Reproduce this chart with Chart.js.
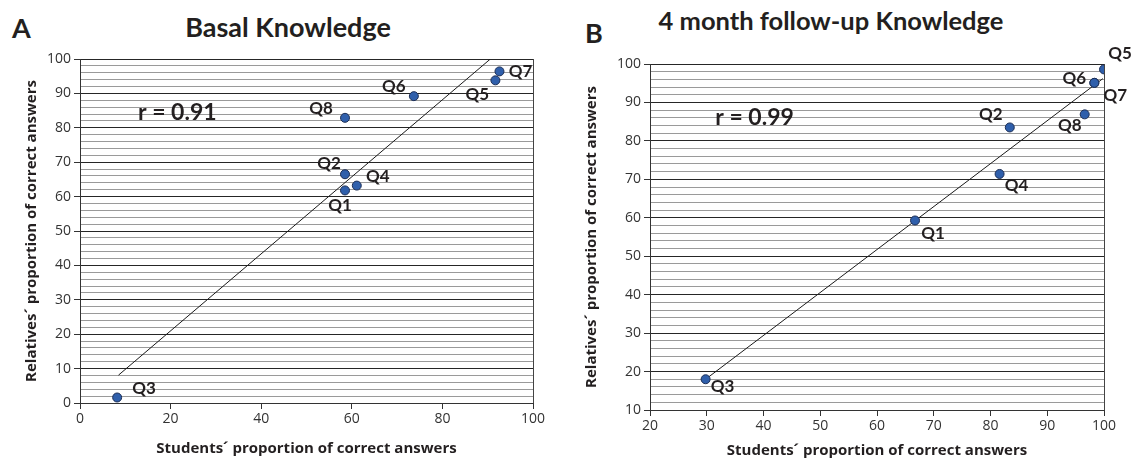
<!DOCTYPE html>
<html>
<head>
<meta charset="utf-8">
<script src="https://cdn.jsdelivr.net/npm/chart.js@4.4.1/dist/chart.umd.min.js"></script>
<style>
  html, body { margin: 0; padding: 0; background: #fff; }
  body { width: 1134px; height: 462px; position: relative; overflow: hidden; font-family: Lato, "Open Sans", sans-serif; color: #231f20; }
  .box { position: absolute; top: 0; height: 462px; }
  .lbl { position: absolute; font-weight: bold; white-space: nowrap; line-height: 1; }
</style>
</head>
<body>
<div class="lbl" style="left:12px; top:14px; font-size:27px;">A</div>
<div class="lbl" style="left:288px; top:13px; font-size:27px; transform:translateX(-50%);">Basal Knowledge</div>
<div class="lbl" style="left:585px; top:19px; font-size:27px;">B</div>
<div class="lbl" style="left:831px; top:8px; font-size:25.5px; transform:translateX(-50%);">4 month follow-up Knowledge</div>

<div class="box" style="left:0; width:560px;"><canvas id="chartA" width="560" height="462"></canvas></div>
<div class="box" style="left:560px; width:574px;"><canvas id="chartB" width="574" height="462"></canvas></div>

<script>
// questions
const questions = ['Q1', 'Q2', 'Q3', 'Q4', 'Q5', 'Q6', 'Q7', 'Q8'];

// A - basal
const studentsA  = [58.5, 58.5, 8.2, 61.1, 91.7, 73.7, 92.6, 58.5];
const relativesA = [61.8, 66.5, 1.6, 63.2, 93.8, 89.2, 96.4, 82.9];
const trendXA = [8.5, 90.5];
const trendYA = [8.1, 99.9];
const rTextA = 'r = 0.91';

// B - 4 month follow-up
const studentsB  = [66.7, 83.4, 29.8, 81.6, 100, 98.3, 98.3, 96.6];
const relativesB = [59.3, 83.5, 18.0, 71.4, 98.6, 95.1, 95.1, 86.9];
const trendXB = [29.8, 99.8];
const trendYB = [18.0, 96.2];
const rTextB = 'r = 0.99';

const xTitle = 'Students\u00b4 proportion of correct answers';
const yTitle = 'Relatives\u00b4 proportion of correct answers';

// label offsets from the dot (px)
const offsetsA = [[-5, 15], [-16, -11], [27, -9], [21, -9], [-18, 14], [-20, -10], [21, 0], [-24, -9]];
const offsetsB = [[18, 13], [-19, -13], [17, 7], [17, 12], [16, -16], [-20, -4], [21, 13], [-15, 11]];

const FONT = 'Lato, "Open Sans", sans-serif';
const AXFONT = '"Open Sans", sans-serif';

// draws the Q labels and the r value
const qLabels = {
  id: 'qLabels',
  afterDatasetsDraw(chart, args, opts) {
    const ctx = chart.ctx;
    const meta = chart.getDatasetMeta(0);
    ctx.save();
    ctx.fillStyle = '#231f20';
    ctx.font = 'bold 17px ' + FONT;
    ctx.textAlign = 'center';
    ctx.textBaseline = 'middle';
    meta.data.forEach((pt, i) => {
      const o = opts.offsets[i];
      ctx.fillText(opts.names[i], pt.x + o[0], pt.y + o[1]);
    });
    const xs = chart.scales.x, ys = chart.scales.y;
    ctx.font = 'bold 23px ' + FONT;
    ctx.textAlign = 'left';
    ctx.fillText(opts.rText, xs.getPixelForValue(opts.rAt[0]), ys.getPixelForValue(opts.rAt[1]));
    ctx.restore();
  }
};

function makeChart(id, xs, ys, tx, ty, xMin, xMax, xStep, yMin, offsets, rText, rAt, pad, yW) {
  const pts = xs.map((v, i) => ({ x: v, y: ys[i] }));
  const line = tx.map((v, i) => ({ x: v, y: ty[i] }));
  return new Chart(document.getElementById(id), {
    type: 'scatter',
    data: {
      datasets: [
        { data: pts, pointRadius: 4.5, pointBackgroundColor: '#2f5fab', pointBorderColor: '#1c2e55', pointBorderWidth: 1, order: 0 },
        { data: line, showLine: true, pointRadius: 0, borderColor: '#1a1a1a', borderWidth: 1, order: 1 }
      ]
    },
    options: {
      responsive: false,
      devicePixelRatio: 1,
      animation: false,
      layout: { padding: { left: pad.left, right: pad.right, top: pad.top, bottom: 0 } },
      plugins: {
        legend: { display: false },
        tooltip: { enabled: false },
        qLabels: { names: questions, offsets: offsets, rText: rText, rAt: rAt }
      },
      scales: {
        x: {
          type: 'linear', min: xMin, max: xMax,
          ticks: { stepSize: xStep, autoSkip: false, color: '#333', font: { family: AXFONT, size: 14 }, padding: 2, maxRotation: 0 },
          grid: {
            color: c => c.tick.value === xMax ? '#444' : 'rgba(0,0,0,0)',
            tickColor: '#333', tickLength: 6
          },
          border: { color: '#333', width: 1 },
          title: { display: true, text: xTitle, color: '#231f20', font: { family: AXFONT, size: 15, weight: 'bold' }, padding: { top: 4, bottom: pad.xtb } },
          afterFit: s => { s.height = 462 - pad.top - pad.plotH; }
        },
        y: {
          type: 'linear', min: yMin, max: 100,
          ticks: {
            stepSize: 2, autoSkip: false, color: '#333', font: { family: AXFONT, size: 14 }, padding: 3,
            callback: v => (Math.round(v) % 10 === 0 ? Math.round(v) : '')
          },
          grid: {
            color: c => (Math.round(c.tick.value) % 10 === 0 ? '#262626' : '#9a9a9a'),
            tickColor: c => (Math.round(c.tick.value) % 10 === 0 ? '#333' : 'rgba(0,0,0,0)'),
            tickLength: 6
          },
          border: { color: '#333', width: 1 },
          title: { display: true, text: yTitle, color: '#231f20', font: { family: AXFONT, size: 15, weight: 'bold' }, padding: { top: 3, bottom: 2 } },
          afterFit: s => { s.width = yW; }
        }
      }
    },
    plugins: [qLabels]
  });
}

makeChart('chartA', studentsA, relativesA, trendXA, trendYA, 0, 100, 20, 0, offsetsA, rTextA, [12.8, 84.3],
  { left: 20, right: 27, top: 59, plotH: 344, xtb: 4 }, 60);
makeChart('chartB', studentsB, relativesB, trendXB, trendYB, 20, 100, 10, 10, offsetsB, rTextB, [31.5, 86.0],
  { left: 20, right: 30, top: 64, plotH: 346, xtb: 2 }, 70);
</script>
</body>
</html>
